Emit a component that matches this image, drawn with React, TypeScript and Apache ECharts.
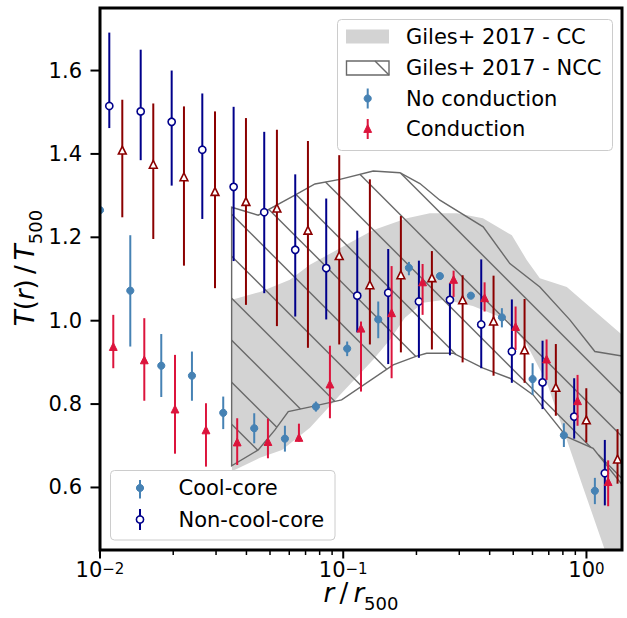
import React, { useEffect, useRef } from 'react';
import * as echarts from 'echarts';

const FONT = '"DejaVu Sans", Verdana, sans-serif';

// Axis ranges
const X_MIN = 0.01;
const X_MAX = 1.4;
const Y_MIN = 0.45;
const Y_MAX = 1.75;

// Tick positions
const xMajorTicks = [0.01, 0.1, 1];
const xMinorTicks = [0.02, 0.03, 0.04, 0.05, 0.06, 0.07, 0.08, 0.09, 0.2, 0.3, 0.4, 0.5, 0.6, 0.7, 0.8, 0.9];
const yTicks = [0.6, 0.8, 1.0, 1.2, 1.4, 1.6];

// No conduction, cool-core: radius, T/T500, lower and upper error bounds
const ccNoCondR = [0.0100, 0.01332, 0.01786, 0.02388, 0.03211, 0.04306, 0.05758, 0.07722, 0.1038, 0.1393, 0.1862, 0.2497, 0.3348, 0.4491, 0.6006, 0.8075, 1.083];
const ccNoCondT = [1.265, 1.072, 0.892, 0.868, 0.779, 0.742, 0.717, 0.794, 0.933, 1.003, 1.127, 1.107, 1.060, 1.008, 0.860, 0.725, 0.592];
const ccNoCondLo = [1.25, 0.938, 0.817, 0.808, 0.740, 0.706, 0.686, 0.782, 0.915, 0.958, 1.109, 1.100, 1.054, 0.984, 0.822, 0.697, 0.560];
const ccNoCondHi = [1.28, 1.205, 0.968, 0.926, 0.818, 0.778, 0.748, 0.806, 0.950, 1.046, 1.141, 1.114, 1.066, 1.030, 0.898, 0.754, 0.623];

// No conduction, non-cool-core
const nccNoCondR = [0.01092, 0.01470, 0.01971, 0.02634, 0.03543, 0.04734, 0.06349, 0.08513, 0.1142, 0.1531, 0.2047, 0.2746, 0.3693, 0.4935, 0.6599, 0.8903, 1.190];
const nccNoCondT = [1.515, 1.502, 1.477, 1.410, 1.321, 1.260, 1.170, 1.126, 1.060, 1.067, 1.046, 1.050, 0.991, 0.926, 0.852, 0.770, 0.634];
const nccNoCondLo = [1.462, 1.385, 1.324, 1.244, 1.143, 1.066, 1.010, 1.003, 0.972, 0.896, 0.911, 0.917, 0.886, 0.851, 0.788, 0.717, 0.557];
const nccNoCondHi = [1.691, 1.650, 1.600, 1.545, 1.513, 1.453, 1.351, 1.293, 1.216, 1.172, 1.144, 1.090, 1.147, 1.051, 0.952, 0.862, 0.714];

// Conduction, cool-core
const ccCondR = [0.01134, 0.01521, 0.02034, 0.02727, 0.03665, 0.04903, 0.06575, 0.08817, 0.1183, 0.1581, 0.2120, 0.2843, 0.3813, 0.5113, 0.6855, 0.9192, 1.228];
const ccCondT = [0.938, 0.906, 0.788, 0.738, 0.709, 0.710, 0.720, 0.848, 0.982, 1.019, 1.093, 1.099, 1.055, 0.986, 0.908, 0.808, 0.614];
const ccCondLo = [0.886, 0.808, 0.681, 0.650, 0.654, 0.670, 0.710, 0.766, 0.830, 0.862, 1.014, 1.057, 1.022, 0.930, 0.858, 0.748, 0.555];
const ccCondHi = [1.014, 1.006, 0.918, 0.802, 0.766, 0.765, 0.753, 0.940, 0.998, 1.131, 1.136, 1.120, 1.092, 1.034, 0.955, 0.870, 0.665];

// Conduction, non-cool-core
const nccCondR = [0.01235, 0.01656, 0.02214, 0.02970, 0.03982, 0.05338, 0.07160, 0.09629, 0.1287, 0.1726, 0.2315, 0.3096, 0.4150, 0.5566, 0.7484, 0.9986, 1.342];
const nccCondT = [1.409, 1.375, 1.345, 1.310, 1.286, 1.270, 1.217, 1.156, 1.086, 1.110, 1.103, 1.050, 0.999, 0.930, 0.840, 0.762, 0.668];
const nccCondLo = [1.248, 1.196, 1.132, 1.078, 1.038, 0.987, 0.935, 0.943, 0.943, 0.924, 0.931, 0.900, 0.868, 0.851, 0.772, 0.708, 0.609];
const nccCondHi = [1.530, 1.521, 1.514, 1.502, 1.486, 1.458, 1.431, 1.397, 1.339, 1.251, 1.167, 1.109, 1.108, 1.052, 0.944, 0.838, 0.740];

// Giles+ 2017 cool-core envelope
const gilesCcUpperR = [0.03487, 0.04546, 0.06037, 0.07295, 0.09691, 0.1324, 0.1827, 0.2272, 0.2934, 0.3752, 0.4935, 0.5689, 0.6432, 0.8305, 1.033, 1.4, 1.6];
const gilesCcUpperT = [1.050, 1.069, 1.098, 1.134, 1.174, 1.217, 1.246, 1.258, 1.258, 1.246, 1.205, 1.145, 1.102, 1.081, 1.033, 0.966, 0.93];
const gilesCcLowerR = [0.03487, 0.04546, 0.05598, 0.07295, 0.09691, 0.1324, 0.1556, 0.1793, 0.2126, 0.2618, 0.3412, 0.4709, 0.5689, 0.6875, 0.8305, 0.9665, 1.190, 1.6];
const gilesCcLowerT = [0.639, 0.671, 0.690, 0.743, 0.822, 0.906, 0.954, 1.007, 1.043, 1.050, 1.035, 1.002, 0.942, 0.851, 0.714, 0.602, 0.450, 0.30];

// Giles+ 2017 non-cool-core envelope
const gilesNccUpperR = [0.03477, 0.04473, 0.06331, 0.07651, 0.09691, 0.1328, 0.1710, 0.2067, 0.2497, 0.3762, 0.4843, 0.6434, 0.8548, 1.083, 1.6];
const gilesNccUpperT = [1.272, 1.253, 1.301, 1.328, 1.339, 1.359, 1.355, 1.329, 1.289, 1.225, 1.137, 1.081, 1.002, 0.926, 0.91];
const gilesNccLowerR = [0.03477, 0.04473, 0.05239, 0.05943, 0.07415, 0.09849, 0.1605, 0.2003, 0.2202, 0.2832, 0.3762, 0.4843, 0.6039, 0.8283, 1.065, 1.4, 1.6];
const gilesNccLowerT = [0.652, 0.690, 0.738, 0.782, 0.794, 0.810, 0.894, 0.915, 0.922, 0.922, 0.886, 0.862, 0.822, 0.722, 0.694, 0.607, 0.56];

// Colours
const STEELBLUE = '#4682b4';
const DARKBLUE = '#00008b';
const CRIMSON = '#dc143c';
const DARKRED = '#8b0000';
const BAND_GRAY = '#d3d3d3';
const HATCH_GRAY = '#696969';

// Layout
const GRID = { left: 100, top: 8, width: 522, height: 542 };
const HATCH_STEP = 42;
const HATCH_PHASE = 24.5;
const BAR_W = 2;

type Kind = 'circle' | 'triangle';

function markerEl(kind: Kind, cx: number, cy: number, color: string, open: boolean) {
  const style = { fill: open ? '#ffffff' : color, stroke: color, lineWidth: open ? 1.6 : 1 };
  if (kind === 'circle') {
    return { type: 'circle', shape: { cx, cy, r: 3.6 }, style };
  }
  const h = 3.9;
  return {
    type: 'polygon',
    shape: { points: [[cx, cy - h], [cx - h, cy + h], [cx + h, cy + h]] },
    style,
  };
}

const zip4 = (r: number[], t: number[], lo: number[], hi: number[]) =>
  r.map((x, i) => [x, t[i], lo[i], hi[i]]);

function errorSeries(name: string, data: number[][], color: string, kind: Kind, open: boolean, z: number) {
  return {
    type: 'custom',
    name,
    coordinateSystem: 'cartesian2d',
    clip: true,
    silent: true,
    z,
    data,
    renderItem: (_p: any, api: any) => {
      const x = api.value(0);
      const c = api.coord([x, api.value(1)]);
      const lo = api.coord([x, api.value(2)]);
      const hi = api.coord([x, api.value(3)]);
      return {
        type: 'group',
        children: [
          { type: 'line', shape: { x1: c[0], y1: hi[1], x2: c[0], y2: lo[1] }, style: { stroke: color, lineWidth: BAR_W } },
          markerEl(kind, c[0], c[1], color, open),
        ],
      };
    },
  };
}

function bandPolygon(api: any, upR: number[], upT: number[], loR: number[], loT: number[]) {
  const pts: number[][] = [];
  upR.forEach((r, i) => pts.push(api.coord([r, upT[i]])));
  for (let i = loR.length - 1; i >= 0; i--) pts.push(api.coord([loR[i], loT[i]]));
  return pts;
}

// Diagonal "\" hatch lines clipped to a polygon, in pixel space
function hatchLines(pts: number[][], step: number, phase: number, stroke: string) {
  const vals = pts.map((p) => p[1] - p[0]);
  const cMin = Math.min(...vals);
  const cMax = Math.max(...vals);
  const out: any[] = [];
  let c = Math.ceil((cMin - phase) / step) * step + phase;
  for (; c <= cMax; c += step) {
    const xs: number[] = [];
    for (let i = 0; i < pts.length; i++) {
      const a = pts[i];
      const b = pts[(i + 1) % pts.length];
      const fa = a[1] - a[0] - c;
      const fb = b[1] - b[0] - c;
      if ((fa < 0) !== (fb < 0)) {
        const t = fa / (fa - fb);
        xs.push(a[0] + t * (b[0] - a[0]));
      }
    }
    xs.sort((m, n) => m - n);
    for (let k = 0; k + 1 < xs.length; k += 2) {
      out.push({
        type: 'line',
        shape: { x1: xs[k], y1: xs[k] + c, x2: xs[k + 1], y2: xs[k + 1] + c },
        style: { stroke, lineWidth: 1.4 },
      });
    }
  }
  return out;
}

function legendText(x: number, y: number, text: string) {
  return {
    type: 'text',
    x,
    y,
    z: 61,
    silent: true,
    style: { text, fontSize: 21, fontFamily: FONT, fill: '#000000', textVerticalAlign: 'middle', textAlign: 'left' },
  };
}

function legendErr(x: number, y: number, y1: number, y2: number, color: string, kind: Kind, open: boolean) {
  return [
    { type: 'line', z: 61, silent: true, shape: { x1: x, y1, x2: x, y2 }, style: { stroke: color, lineWidth: BAR_W } },
    { ...markerEl(kind, x, y, color, open), z: 62, silent: true },
  ];
}

const nameRich = {
  i: { fontSize: 26, fontFamily: FONT, fontStyle: 'italic', color: '#000000', lineHeight: 32, verticalAlign: 'top' },
  n: { fontSize: 26, fontFamily: FONT, color: '#000000', lineHeight: 32, verticalAlign: 'top' },
  s: { fontSize: 18, fontFamily: FONT, color: '#000000', lineHeight: 14, verticalAlign: 'bottom' },
};

function buildOption() {
  const xFormatter = (v: number) => {
    const lg = Math.log10(v);
    const e = Math.round(lg);
    if (Math.abs(lg - e) > 1e-6) return '';
    return `{b|10}{s|${e < 0 ? '\u2212' : ''}${Math.abs(e)}}`;
  };
  const yFormatter = (v: number) => {
    const k = v / 0.2;
    return Math.abs(k - Math.round(k)) < 1e-6 ? v.toFixed(1) : '';
  };

  const graphicEls: any[] = [
    // axes frame
    {
      type: 'rect',
      z: 50,
      silent: true,
      shape: { x: GRID.left, y: GRID.top, width: GRID.width, height: GRID.height },
      style: { fill: 'none', stroke: '#000000', lineWidth: 3 },
    },
    // upper-right legend
    {
      type: 'rect',
      z: 60,
      silent: true,
      shape: { x: 337.5, y: 19.5, width: 275, height: 131, r: 4 },
      style: { fill: 'rgba(255,255,255,0.8)', stroke: '#cccccc', lineWidth: 1 },
    },
    { type: 'rect', z: 61, silent: true, shape: { x: 346, y: 29.5, width: 43, height: 14 }, style: { fill: BAND_GRAY } },
    legendText(406, 36.5, 'Giles+ 2017 - CC'),
    {
      type: 'rect',
      z: 61,
      silent: true,
      shape: { x: 346.5, y: 61, width: 42.5, height: 14 },
      style: { fill: 'none', stroke: HATCH_GRAY, lineWidth: 1.4 },
    },
    { type: 'line', z: 61, silent: true, shape: { x1: 375, x2: 389, y1: 61, y2: 75 }, style: { stroke: HATCH_GRAY, lineWidth: 1.4 } },
    legendText(406, 68, 'Giles+ 2017 - NCC'),
    ...legendErr(367.7, 98.5, 88.5, 108.5, STEELBLUE, 'circle', false),
    legendText(406, 99, 'No conduction'),
    ...legendErr(367.7, 128.5, 119, 139, CRIMSON, 'triangle', false),
    legendText(406, 129.3, 'Conduction'),
    // lower-left legend
    {
      type: 'rect',
      z: 60,
      silent: true,
      shape: { x: 110.5, y: 470.5, width: 224.5, height: 69.5, r: 4 },
      style: { fill: 'rgba(255,255,255,0.8)', stroke: '#cccccc', lineWidth: 1 },
    },
    ...legendErr(140, 488, 480, 498.5, STEELBLUE, 'circle', false),
    legendText(178.5, 488, 'Cool-core'),
    ...legendErr(140, 519.5, 509, 530, DARKBLUE, 'circle', true),
    legendText(178.5, 519.5, 'Non-cool-core'),
  ];

  return {
    animation: false,
    backgroundColor: '#ffffff',
    textStyle: { fontFamily: FONT },
    grid: { ...GRID, containLabel: false, outerBoundsMode: 'none' },
    xAxis: {
      type: 'log',
      logBase: 10,
      min: X_MIN,
      max: X_MAX,
      axisLine: { show: false },
      axisTick: { show: false },
      minorTick: { show: false },
      splitLine: { show: false },
      axisLabel: {
        margin: 11,
        color: '#000000',
        formatter: xFormatter,
        rich: {
          b: { fontSize: 21, fontFamily: FONT, color: '#000000', lineHeight: 19, verticalAlign: 'bottom' },
          s: { fontSize: 15, fontFamily: FONT, color: '#000000', lineHeight: 12, verticalAlign: 'top' },
        },
      },
      name: '{i|r}{n|\u2009/\u2009}{i|r}{s|500}',
      nameLocation: 'middle',
      nameGap: 30,
      nameMoveOverlap: false,
      nameTextStyle: { rich: nameRich },
    },
    yAxis: {
      type: 'value',
      min: Y_MIN,
      max: Y_MAX,
      splitNumber: 6,
      axisLine: { show: false },
      axisTick: { show: false },
      splitLine: { show: false },
      axisLabel: { margin: 18, fontSize: 21, fontFamily: FONT, color: '#000000', formatter: yFormatter },
      name: '{i|T}{n|(}{i|r}{n|)\u2009/\u2009}{i|T}{s|500}',
      nameLocation: 'middle',
      nameGap: 56,
      nameMoveOverlap: false,
      nameTextStyle: { rich: nameRich, padding: [0, 0, 0, 22] },
    },
    graphic: { elements: graphicEls },
    series: [
      {
        type: 'custom',
        name: 'Giles+ 2017 - CC',
        coordinateSystem: 'cartesian2d',
        clip: true,
        silent: true,
        z: 1,
        data: [[X_MIN, Y_MIN]],
        renderItem: (_p: any, api: any) => ({
          type: 'polygon',
          shape: { points: bandPolygon(api, gilesCcUpperR, gilesCcUpperT, gilesCcLowerR, gilesCcLowerT) },
          style: { fill: BAND_GRAY },
        }),
      },
      {
        type: 'custom',
        name: 'Giles+ 2017 - NCC',
        coordinateSystem: 'cartesian2d',
        clip: true,
        silent: true,
        z: 1,
        data: [[X_MIN, Y_MIN]],
        renderItem: (_p: any, api: any) => {
          const pts = bandPolygon(api, gilesNccUpperR, gilesNccUpperT, gilesNccLowerR, gilesNccLowerT);
          return {
            type: 'group',
            children: [
              ...hatchLines(pts, HATCH_STEP, HATCH_PHASE, HATCH_GRAY),
              { type: 'polygon', shape: { points: pts }, style: { fill: 'none', stroke: HATCH_GRAY, lineWidth: 1.4 } },
            ],
          };
        },
      },
      errorSeries('No conduction, cool-core', zip4(ccNoCondR, ccNoCondT, ccNoCondLo, ccNoCondHi), STEELBLUE, 'circle', false, 3),
      errorSeries('No conduction, non-cool-core', zip4(nccNoCondR, nccNoCondT, nccNoCondLo, nccNoCondHi), DARKBLUE, 'circle', true, 4),
      errorSeries('Conduction, cool-core', zip4(ccCondR, ccCondT, ccCondLo, ccCondHi), CRIMSON, 'triangle', false, 5),
      errorSeries('Conduction, non-cool-core', zip4(nccCondR, nccCondT, nccCondLo, nccCondHi), DARKRED, 'triangle', true, 6),
      {
        type: 'custom',
        name: 'x ticks',
        coordinateSystem: 'cartesian2d',
        clip: false,
        silent: true,
        z: 40,
        data: [...xMajorTicks.map((v) => [v, Y_MIN, 1]), ...xMinorTicks.map((v) => [v, Y_MIN, 0])],
        renderItem: (_p: any, api: any) => {
          const pt = api.coord([api.value(0), api.value(1)]);
          const major = api.value(2) === 1;
          return {
            type: 'line',
            shape: { x1: pt[0], y1: pt[1], x2: pt[0], y2: pt[1] + (major ? 8.5 : 5) },
            style: { stroke: '#000000', lineWidth: major ? 2 : 1.5 },
          };
        },
      },
      {
        type: 'custom',
        name: 'y ticks',
        coordinateSystem: 'cartesian2d',
        clip: false,
        silent: true,
        z: 40,
        data: yTicks.map((v) => [X_MIN, v]),
        renderItem: (_p: any, api: any) => {
          const pt = api.coord([api.value(0), api.value(1)]);
          return {
            type: 'line',
            shape: { x1: pt[0] - 9.5, y1: pt[1], x2: pt[0], y2: pt[1] },
            style: { stroke: '#000000', lineWidth: 2 },
          };
        },
      },
    ],
  };
}

export default function App() {
  const ref = useRef<HTMLDivElement>(null);
  useEffect(() => {
    if (!ref.current) return;
    const chart = echarts.init(ref.current, null, { renderer: 'svg' });
    chart.setOption(buildOption() as any);
    return () => chart.dispose();
  }, []);
  return (
    <div
      ref={ref}
      style={{ position: 'fixed', left: 0, top: 0, width: 627, height: 618, background: '#ffffff' }}
    />
  );
}
